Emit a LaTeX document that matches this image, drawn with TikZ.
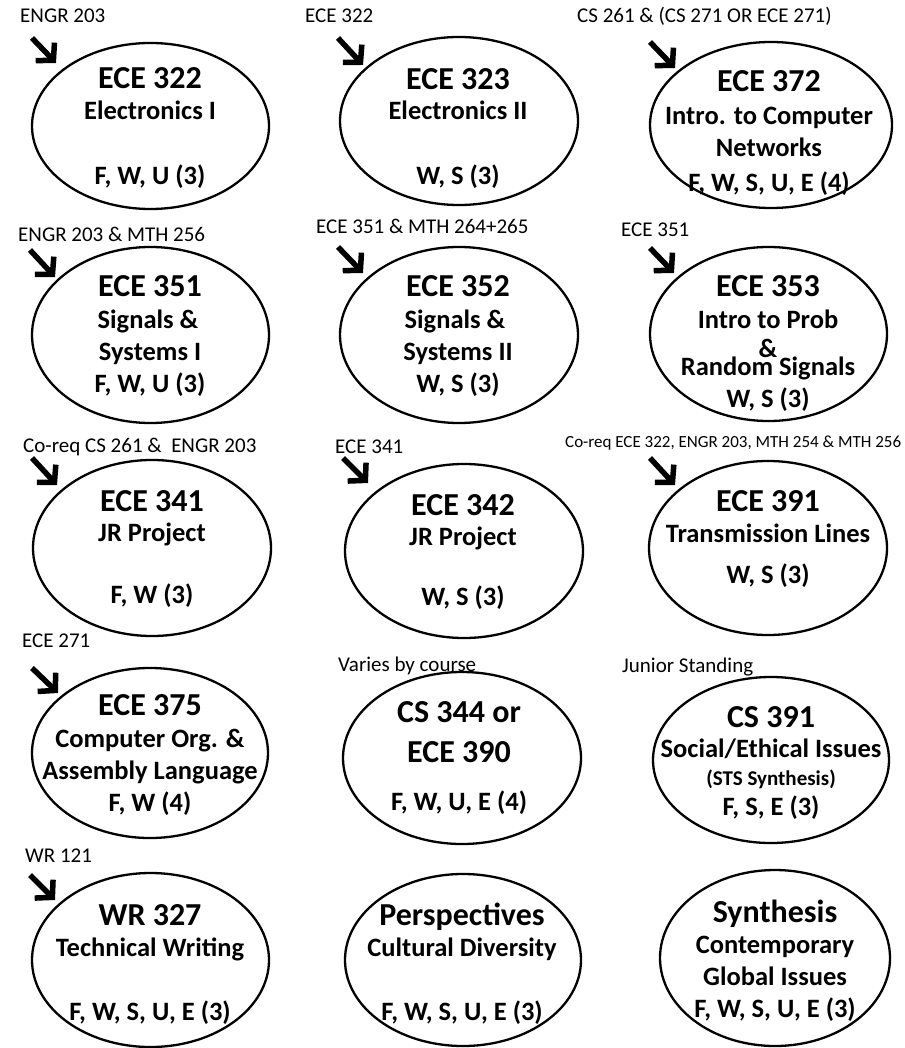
\documentclass[tikz,border=0pt]{standalone}
\usepackage{fontspec}
\setmainfont{Carlito}
\usetikzlibrary{shapes.geometric,arrows.meta}
\newcommand\crsE[5]{\node[crs, minimum width=#4pt, minimum height=#5pt] (#1) at (#2,#3) {};}
\begin{document}
\begin{tikzpicture}[x=1pt,y=-1pt,
 crs/.style={draw, ellipse, line width=2.3pt, inner sep=0pt},
 ttl/.style={anchor=base, inner sep=0pt, font=\fontsize{32}{39}\selectfont\bfseries},
 bdy/.style={anchor=base, inner sep=0pt, font=\fontsize{26.5}{32}\selectfont\bfseries},
 sml/.style={anchor=base, inner sep=0pt, font=\fontsize{21}{25}\selectfont\bfseries},
 pre/.style={anchor=base west, inner sep=0pt, font=\fontsize{21}{25}\selectfont},
 pres/.style={anchor=base west, inner sep=0pt, font=\fontsize{17}{20}\selectfont},
 arr/.style={line width=5.5pt, -{Straight Barb[length=12pt,width=26pt]}}]
\useasboundingbox (0,0) rectangle (904,1048);

% ellipses
\crsE{e1}{150.5}{126}{237}{166}
\crsE{e2}{459}{121}{238}{168}
\crsE{e3}{771}{125}{242}{166}
\crsE{e4}{150.5}{335}{237}{176}
\crsE{e5}{459}{335}{238}{176}
\crsE{e6}{768.5}{334}{237}{174}
\crsE{e7}{152}{548}{238}{176}
\crsE{e8}{464}{551}{238}{174}
\crsE{e9}{768}{548}{238}{174}
\crsE{e10}{150}{753}{236}{170}
\crsE{e11}{462}{758}{238}{172}
\crsE{e12}{771}{760}{236}{166}
\crsE{e13}{150.5}{960}{237}{174}
\crsE{e14}{463}{960}{236}{172}
\crsE{e15}{775}{958}{230}{176}

% prerequisite labels
\node[pre] (p1) at (20,23) {ENGR 203};
\node[pre] (p2) at (305,23) {ECE 322};
\node[pre] (p3) at (577,23) {CS 261 \& (CS 271 OR ECE 271)};
\node[pre] (p4) at (18,242) {ENGR 203 \& MTH 256};
\node[pre] (p5) at (316,234) {ECE 351 \& MTH 264+265};
\node[pre] (p6) at (621,237) {ECE 351};
\node[pre] (p7) at (23,452) {Co-req CS 261 \& \ ENGR 203};
\node[pre] (p8) at (335,453) {ECE 341};
\node[pres] (p9) at (565,447) {Co-req ECE 322, ENGR 203, MTH 254 \& MTH 256};
\node[pre] (p10) at (22,647) {ECE 271};
\node[pre] (p11) at (338,671) {Varies by course};
\node[pre] (p12) at (622,672) {Junior Standing};
\node[pre] (p13) at (25,862) {WR 121};

% arrows
\coordinate (s1) at (32,38);   \coordinate (h1) at (56,63);
\coordinate (s2) at (338,38);  \coordinate (h2) at (363,65);
\coordinate (s3) at (650,42);  \coordinate (h3) at (675,68);
\coordinate (s4) at (30,250);  \coordinate (h4) at (55,277);
\coordinate (s5) at (338,247); \coordinate (h5) at (363,273);
\coordinate (s6) at (650,248); \coordinate (h6) at (674,273);
\coordinate (s7) at (32,458);  \coordinate (h7) at (57,485);
\coordinate (s8) at (343,458); \coordinate (h8) at (368,483);
\coordinate (s9) at (650,458); \coordinate (h9) at (675,485);
\coordinate (s10) at (32,668); \coordinate (h10) at (58,693);
\coordinate (s11) at (30,875); \coordinate (h11) at (55,900);
\foreach \i in {1,...,11} {\draw[arr] (s\i) -- (h\i);}

% texts
\node[ttl] (t1a) at (150,89) {ECE 322};
\node[bdy] (t1b) at (150,120) {Electronics I};
\node[bdy] (t1c) at (150,185) {F, W, U (3)};

\node[ttl] (t2a) at (458,90) {ECE 323};
\node[bdy] (t2b) at (458,120) {Electronics II};
\node[bdy] (t2c) at (458,185) {W, S (3)};

\node[ttl] (t3a) at (769,92) {ECE 372};
\node[bdy] (t3b) at (769,125) {Intro. to Computer};
\node[bdy] (t3c) at (769,157) {Networks};
\node[bdy] (t3d) at (769,192) {F, W, S, U, E (4)};

\node[ttl] (t4a) at (150,297) {ECE 351};
\node[bdy] (t4b) at (148,328) {Signals \&};
\node[bdy] (t4c) at (150,360) {Systems I};
\node[bdy] (t4d) at (150,392) {F, W, U (3)};

\node[ttl] (t5a) at (458,297) {ECE 352};
\node[bdy] (t5b) at (455,328) {Signals \&};
\node[bdy] (t5c) at (458,360) {Systems II};
\node[bdy] (t5d) at (458,392) {W, S (3)};

\node[ttl] (t6a) at (768,297) {ECE 353};
\node[bdy] (t6b) at (768,328) {Intro to Prob};
\node[bdy] (t6c) at (768,357) {\&};
\node[bdy] (t6d) at (768,375) {Random Signals};
\node[bdy] (t6e) at (768,407) {W, S (3)};

\node[ttl] (t7a) at (152,511) {ECE 341};
\node[bdy] (t7b) at (152,541) {JR Project};
\node[bdy] (t7c) at (152,603) {F, W (3)};

\node[ttl] (t8a) at (463,515) {ECE 342};
\node[bdy] (t8b) at (463,545) {JR Project};
\node[bdy] (t8c) at (463,605) {W, S (3)};

\node[ttl] (t9a) at (768,511) {ECE 391};
\node[bdy] (t9b) at (768,542) {Transmission Lines};
\node[bdy] (t9c) at (768,583) {W, S (3)};

\node[ttl] (t10a) at (150,715) {ECE 375};
\node[bdy] (t10b) at (150,747) {Computer Org. \&};
\node[bdy] (t10c) at (150,779) {Assembly Language};
\node[bdy] (t10d) at (150,811) {F, W (4)};

\node[ttl] (t11a) at (459,722) {CS 344 or};
\node[ttl] (t11b) at (459,762) {ECE 390};
\node[bdy] (t11c) at (459,810) {F, W, U, E (4)};

\node[ttl] (t12a) at (771,727) {CS 391};
\node[bdy] (t12b) at (771,757) {Social/Ethical Issues};
\node[sml] (t12c) at (771,785) {(STS Synthesis)};
\node[bdy] (t12d) at (771,815) {F, S, E (3)};

\node[ttl] (t13a) at (150,925) {WR 327};
\node[bdy] (t13b) at (150,956) {Technical Writing};
\node[bdy] (t13c) at (150,1020) {F, W, S, U, E (3)};

\node[ttl] (t14a) at (462,925) {Perspectives};
\node[bdy] (t14b) at (462,956) {Cultural Diversity};
\node[bdy] (t14c) at (462,1020) {F, W, S, U, E (3)};

\node[ttl] (t15a) at (775,922) {Synthesis};
\node[bdy] (t15b) at (775,953) {Contemporary};
\node[bdy] (t15c) at (775,985) {Global Issues};
\node[bdy] (t15d) at (775,1017) {F, W, S, U, E (3)};
\end{tikzpicture}
\end{document}
